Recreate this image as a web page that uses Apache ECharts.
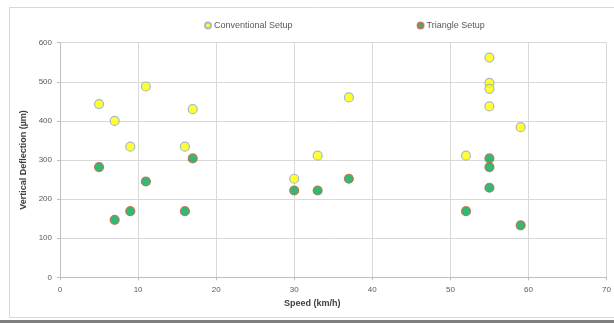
<!DOCTYPE html>
<html><head><meta charset="utf-8">
<script src="https://cdn.jsdelivr.net/npm/echarts@6/dist/echarts.min.js"></script>
<style>html,body{margin:0;padding:0;background:#fff}#c{width:614px;height:323px}</style>
</head><body><div id="c"></div>
<script>
const conventionalX = [5, 7, 9, 11, 16, 17, 30, 33, 37, 52, 55, 55, 55, 55, 59];
const conventionalY = [443, 400, 334, 488, 334, 430, 252, 311, 460, 311, 562, 497, 482, 437, 384];
const triangleX = [5, 7, 9, 11, 16, 17, 30, 33, 37, 52, 55, 55, 55, 59];
const triangleY = [282, 147, 169, 245, 169, 304, 222, 222, 252, 169, 304, 282, 229, 133];
const xTicks = [0, 10, 20, 30, 40, 50, 60, 70];
const yTicks = [0, 100, 200, 300, 400, 500, 600];

const chart = echarts.init(document.getElementById('c'), null, {renderer: 'canvas'});
const font = 'Liberation Sans, Arial, sans-serif';
chart.setOption({
  animation: false,
  backgroundColor: '#fff',
  graphic: [
    {type: 'rect', shape: {x: 9.5, y: 7.5, width: 620, height: 310}, style: {fill: 'none', stroke: '#d9d9d9', lineWidth: 1}},
    {type: 'rect', shape: {x: 0, y: 320, width: 614, height: 3}, style: {fill: '#7f7f7f'}}
  ],
  legend: {
    top: 16, left: 199, itemGap: 124, itemWidth: 6, itemHeight: 6,
    textStyle: {fontSize: 9, color: '#595959', fontFamily: font, padding: [0, 0, 0, -2]},
    data: [{name: 'Conventional Setup', icon: 'circle'}, {name: 'Triangle Setup', icon: 'circle'}]
  },
  grid: {left: 60, top: 42.7, right: 1.7, bottom: 45.7, containLabel: false},
  xAxis: {
    type: 'value', min: xTicks[0], max: xTicks[xTicks.length - 1], interval: 10,
    name: 'Speed (km/h)', nameLocation: 'middle', nameGap: 22,
    nameTextStyle: {fontSize: 9, fontWeight: 'bold', color: '#404040', fontFamily: font, padding: [0, 42, 0, 0]},
    axisLine: {lineStyle: {color: '#bfbfbf'}},
    axisTick: {show: true, length: 3, lineStyle: {color: '#bfbfbf'}},
    axisLabel: {fontSize: 8, color: '#595959', margin: 8, fontFamily: font},
    splitLine: {show: true, lineStyle: {color: '#d9d9d9'}}
  },
  yAxis: {
    type: 'value', min: yTicks[0], max: yTicks[yTicks.length - 1], interval: 100,
    name: 'Vertical Deflection (µm)', nameLocation: 'middle', nameGap: 27,
    nameTextStyle: {fontSize: 9, fontWeight: 'bold', color: '#404040', fontFamily: font},
    axisLine: {show: true, lineStyle: {color: '#bfbfbf'}},
    axisTick: {show: true, length: 3, lineStyle: {color: '#bfbfbf'}},
    axisLabel: {fontSize: 8, color: '#595959', margin: 8, fontFamily: font},
    splitLine: {show: true, lineStyle: {color: '#d9d9d9'}}
  },
  series: [
    {
      name: 'Conventional Setup', type: 'scatter', symbolSize: 9,
      itemStyle: {color: '#ffff00', borderColor: '#8fa9d4', borderWidth: 1.2},
      data: conventionalX.map((x, i) => [x, conventionalY[i]])
    },
    {
      name: 'Triangle Setup', type: 'scatter', symbolSize: 9,
      itemStyle: {color: '#00a84f', borderColor: '#c0634d', borderWidth: 1.2},
      data: triangleX.map((x, i) => [x, triangleY[i]])
    }
  ]
});
</script></body></html>
